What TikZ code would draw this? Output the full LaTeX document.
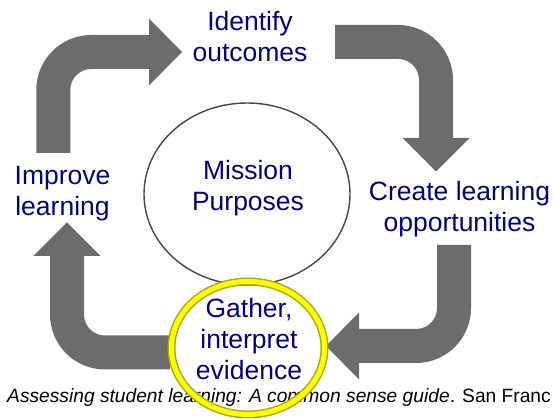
\documentclass[tikz,border=0pt]{standalone}
\usepackage{fontspec}
\setmainfont{Liberation Sans}
\usetikzlibrary{shapes.geometric}
\definecolor{arrowgray}{RGB}{108,108,108}
\definecolor{labelblue}{RGB}{0,0,128}
\definecolor{ringyellow}{RGB}{255,255,0}
\definecolor{ringedge}{RGB}{170,170,20}
\definecolor{ellgray}{RGB}{70,70,70}
\begin{document}
\begin{tikzpicture}[x=1pt,y=-1pt,
  shaft/.style={draw=arrowgray,line width=34pt,rounded corners=38pt},
  head/.style={fill=arrowgray},
  lbl/.style={text=labelblue,font=\fontsize{26.5}{31}\selectfont,align=center,anchor=base,inner sep=0pt},
  caption/.style={text=black,font=\fontsize{19.2}{23}\selectfont,anchor=base west,inner sep=0pt}]
\useasboundingbox (0,0) rectangle (554,419);
% central ellipse
\node[draw=ellgray,line width=1.4pt,ellipse,minimum width=206pt,minimum height=182pt,inner sep=0pt] (mission) at (247,194) {};
% arrows
\coordinate (a1s) at (53.3,153); \coordinate (a1c) at (53.3,52); \coordinate (a1e) at (150,52);
\draw[shaft] (a1s) -- (a1c) -- (a1e);
\fill[head] (149,18.5) -- (182,52) -- (149,85.5) -- cycle;
\coordinate (a2s) at (335,42); \coordinate (a2c) at (436,42); \coordinate (a2e) at (436,139);
\draw[shaft] (a2s) -- (a2c) -- (a2e);
\fill[head] (402.5,138) -- (436,171.5) -- (469.5,138) -- cycle;
\coordinate (a3s) at (454,245); \coordinate (a3c) at (454,346); \coordinate (a3e) at (358,346);
\draw[shaft] (a3s) -- (a3c) -- (a3e);
\fill[head] (359,312.5) -- (326,346) -- (359,379.5) -- cycle;
\coordinate (a4s) at (170,352.5); \coordinate (a4c) at (67,352.5); \coordinate (a4e) at (67,255);
\draw[shaft] (a4s) -- (a4c) -- (a4e);
\fill[head] (33.5,256) -- (67,222.5) -- (100.5,256) -- cycle;
% labels
\node[lbl] (identify) at (250,62) {Identify\\outcomes};
\node[lbl] (missiontxt) at (248,211) {Mission\\Purposes};
\node[lbl] (improve) at (62.5,216) {Improve\\learning};
\node[lbl] (create) at (459.5,232) {Create learning\\opportunities};
\node[lbl] (gather) at (249,379) {Gather,\\interpret\\evidence};
% caption
\node[caption] (cap) at (7,402) {\textit{Assessing student learning: A common sense guide}. San Franc};
% yellow ring
\draw[ringedge,line width=8pt] (248,348) ellipse [x radius=76.5, y radius=66.5];
\draw[ringyellow,line width=5pt] (248,348) ellipse [x radius=76.5, y radius=66.5];
\end{tikzpicture}
\end{document}
